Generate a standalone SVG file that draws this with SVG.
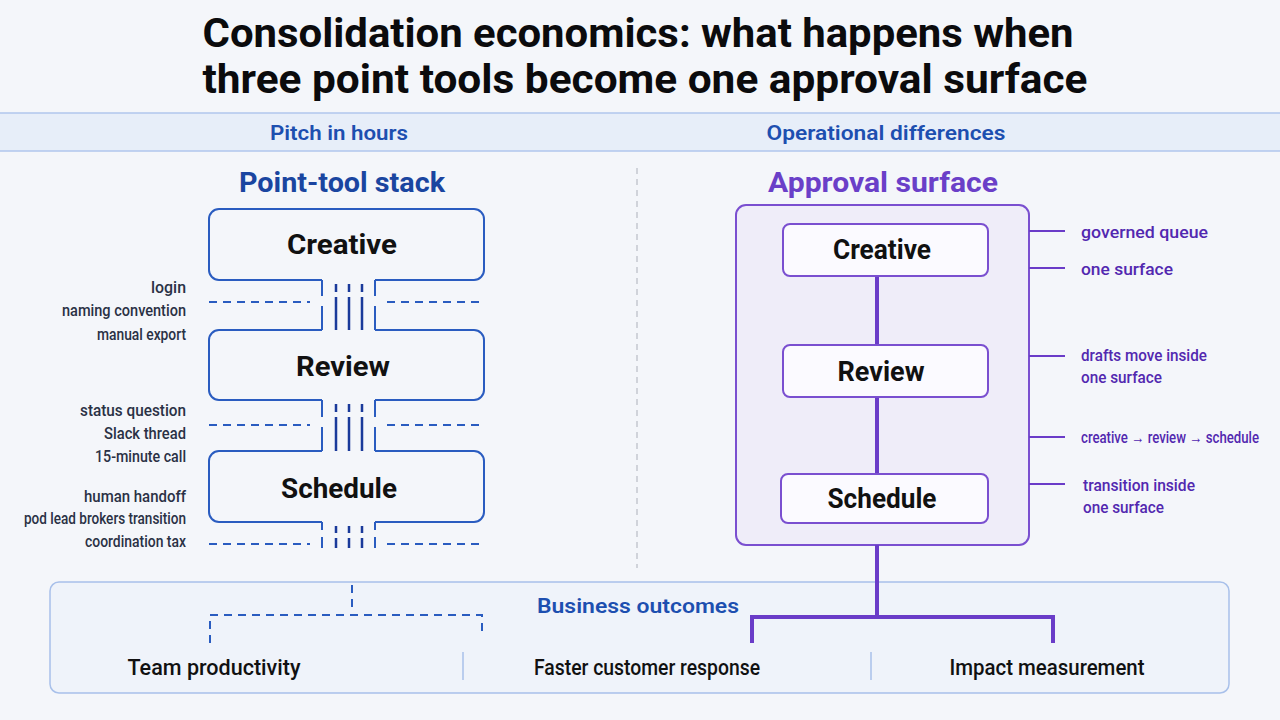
<svg xmlns="http://www.w3.org/2000/svg" width="1280" height="720" viewBox="0 0 1280 720">
<style>
text{font-family:Roboto,"Liberation Sans",sans-serif}
.title{font-weight:700;font-size:40px;fill:#0b0b0d;text-anchor:middle}
.band{font-weight:600;font-size:20px;fill:#1d4fb0;text-anchor:middle}
.head{font-weight:700;font-size:27px;text-anchor:middle}
.box{font-weight:700;font-size:27px;fill:#111;text-anchor:middle}
.lab{font-weight:500;font-size:16px;fill:#2a3145;text-anchor:end}
.rlab{font-weight:500;font-size:16.5px;fill:#5228b0}
.out{font-weight:500;font-size:22px;fill:#111;text-anchor:middle}
.bl{fill:none;stroke:#2a5cc0;stroke-width:2}
.neck{fill:none;stroke:#1a3a9a;stroke-width:2.5}
.dash{fill:none;stroke:#2a5cc0;stroke-width:2;stroke-dasharray:8 6}
.pbox{fill:#fbfaff;stroke:#7a4fd0;stroke-width:2}
.pline{fill:none;stroke:#6a3cc8;stroke-width:4}
.tick{fill:none;stroke:#6a3cc8;stroke-width:2}
</style>
<rect width="1280" height="720" fill="#f4f6fa"/>
<g id="title">
<text class="title" x="638" y="47" textLength="871" lengthAdjust="spacingAndGlyphs">Consolidation economics: what happens when</text>
<text class="title" x="645" y="93" textLength="885" lengthAdjust="spacingAndGlyphs">three point tools become one approval surface</text>
</g>
<g id="band">
<rect x="0" y="113" width="1280" height="38" fill="#e7eef9"/>
<line x1="0" y1="113" x2="1280" y2="113" stroke="#b0c6ec" stroke-width="1.5"/>
<line x1="0" y1="151" x2="1280" y2="151" stroke="#b0c6ec" stroke-width="1.5"/>
<text class="band" x="339" y="140" textLength="138" lengthAdjust="spacingAndGlyphs">Pitch in hours</text>
<text class="band" x="886" y="140" textLength="239" lengthAdjust="spacingAndGlyphs">Operational differences</text>
</g>
<line id="divider" x1="637" y1="168" x2="637" y2="568" stroke="#c4c8d0" stroke-width="1.5" stroke-dasharray="6 5"/>
<text class="head" x="342" y="192" fill="#1a45a0" textLength="206" lengthAdjust="spacingAndGlyphs">Point-tool stack</text>
<text class="head" x="883" y="192" fill="#6a3fc8" textLength="230" lengthAdjust="spacingAndGlyphs">Approval surface</text>

<g id="outcomes">
<rect x="50" y="582" width="1179" height="111" rx="9" fill="#eff3fa" stroke="#a8c0ea" stroke-width="1.5"/>
<text class="band" x="638" y="613" font-weight="700" textLength="202" lengthAdjust="spacingAndGlyphs">Business outcomes</text>
<line x1="463" y1="652" x2="463" y2="680" stroke="#a8c0ea" stroke-width="1.5"/>
<line x1="871" y1="652" x2="871" y2="680" stroke="#a8c0ea" stroke-width="1.5"/>
</g>

<g id="left-creative">
<path class="bl" d="M322,280 H219 A10,10 0 0 1 209,270 V219 A10,10 0 0 1 219,209 H474 A10,10 0 0 1 484,219 V270 A10,10 0 0 1 474,280 H375"/>
<text class="box" x="342" y="254" textLength="110" lengthAdjust="spacingAndGlyphs">Creative</text>
</g>
<g id="left-review">
<path class="bl" d="M322,330 H219 A10,10 0 0 0 209,340 V390 A10,10 0 0 0 219,400 H322 M375,400 H474 A10,10 0 0 0 484,390 V340 A10,10 0 0 0 474,330 H375"/>
<text class="box" x="343" y="376" textLength="94" lengthAdjust="spacingAndGlyphs">Review</text>
</g>
<g id="left-schedule">
<path class="bl" d="M322,451 H219 A10,10 0 0 0 209,461 V512 A10,10 0 0 0 219,522 H322 M375,522 H474 A10,10 0 0 0 484,512 V461 A10,10 0 0 0 474,451 H375"/>
<text class="box" x="339" y="498" textLength="116" lengthAdjust="spacingAndGlyphs">Schedule</text>
</g>

<g id="left-labels">
<text class="lab" x="186" y="293" textLength="35" lengthAdjust="spacingAndGlyphs">login</text>
<text class="lab" x="186" y="316" textLength="124" lengthAdjust="spacingAndGlyphs">naming convention</text>
<text class="lab" x="186" y="340" textLength="89" lengthAdjust="spacingAndGlyphs">manual export</text>
<text class="lab" x="186" y="416" textLength="106" lengthAdjust="spacingAndGlyphs">status question</text>
<text class="lab" x="186" y="439" textLength="82" lengthAdjust="spacingAndGlyphs">Slack thread</text>
<text class="lab" x="186" y="462" textLength="91" lengthAdjust="spacingAndGlyphs">15-minute call</text>
<text class="lab" x="186" y="502" textLength="102" lengthAdjust="spacingAndGlyphs">human handoff</text>
<text class="lab" x="186" y="524" textLength="162" lengthAdjust="spacingAndGlyphs">pod lead brokers transition</text>
<text class="lab" x="186" y="547" textLength="101" lengthAdjust="spacingAndGlyphs">coordination tax</text>
</g>

<g id="surface">
<rect x="736" y="205" width="293" height="340" rx="10" fill="#efedf9" stroke="#7a4fd0" stroke-width="2"/>
</g>
<g id="connectors">
<path class="bl" d="M322,280 V296 M322,306 V330 M375,280 V296 M375,306 V330"/>
<path class="neck" d="M336,284 V292 M336,297 V330 M349,284 V292 M349,297 V330 M362,284 V292 M362,297 V330"/>
<path class="dash" d="M209,302 H310 M387,302 H484"/>
<path class="bl" d="M322,400 V417 M322,427 V451 M375,400 V417 M375,427 V451"/>
<path class="neck" d="M336,404 V412 M336,417 V451 M349,404 V412 M349,417 V451 M362,404 V412 M362,417 V451"/>
<path class="dash" d="M209,425 H310 M387,425 H484"/>
<path class="bl" d="M322,522 V530 M322,537 V548 M375,522 V530 M375,537 V548"/>
<path class="neck" d="M336,526 V533 M336,538 V548 M349,526 V533 M349,538 V548 M362,526 V533 M362,538 V548"/>
<path class="dash" d="M209,544 H310 M387,544 H484"/>
<path class="pline" d="M877,276 V345 M877,397 V474 M877,545 V617 M752,643 V617 H1053 V643"/>
<path class="tick" d="M1029,231 H1065 M1029,268 H1065 M1029,356 H1065 M1029,437 H1065 M1029,484 H1065"/>
<path class="dash" d="M352,585 V612 M210,643 V615 H482 V637"/>
</g>
<g id="right-creative">
<rect class="pbox" x="783" y="224" width="205" height="52" rx="7"/>
<text class="box" x="882" y="259" font-size="25" textLength="98" lengthAdjust="spacingAndGlyphs">Creative</text>
</g>
<g id="right-review">
<rect class="pbox" x="783" y="345" width="205" height="52" rx="7"/>
<text class="box" x="881" y="381" font-size="25" textLength="87" lengthAdjust="spacingAndGlyphs">Review</text>
</g>
<g id="right-schedule">
<rect class="pbox" x="781" y="474" width="207" height="49" rx="7"/>
<text class="box" x="882" y="508" font-size="25" textLength="109" lengthAdjust="spacingAndGlyphs">Schedule</text>
</g>
<g id="right-labels">
<text class="rlab" x="1081" y="238" textLength="127" lengthAdjust="spacingAndGlyphs">governed queue</text>
<text class="rlab" x="1081" y="275" textLength="92" lengthAdjust="spacingAndGlyphs">one surface</text>
<text class="rlab" x="1081" y="361" textLength="126" lengthAdjust="spacingAndGlyphs">drafts move inside</text>
<text class="rlab" x="1081" y="383" textLength="81" lengthAdjust="spacingAndGlyphs">one surface</text>
<text class="rlab" x="1081" y="443" font-size="14" textLength="178" lengthAdjust="spacingAndGlyphs">creative → review → schedule</text>
<text class="rlab" x="1083" y="491" textLength="112" lengthAdjust="spacingAndGlyphs">transition inside</text>
<text class="rlab" x="1083" y="513" textLength="81" lengthAdjust="spacingAndGlyphs">one surface</text>
</g>

<g id="outcome-team"><text class="out" x="214" y="675" textLength="173" lengthAdjust="spacingAndGlyphs">Team productivity</text></g>
<g id="outcome-faster"><text class="out" x="647" y="675" textLength="226" lengthAdjust="spacingAndGlyphs">Faster customer response</text></g>
<g id="outcome-impact"><text class="out" x="1047" y="675" textLength="195" lengthAdjust="spacingAndGlyphs">Impact measurement</text></g>
</svg>
